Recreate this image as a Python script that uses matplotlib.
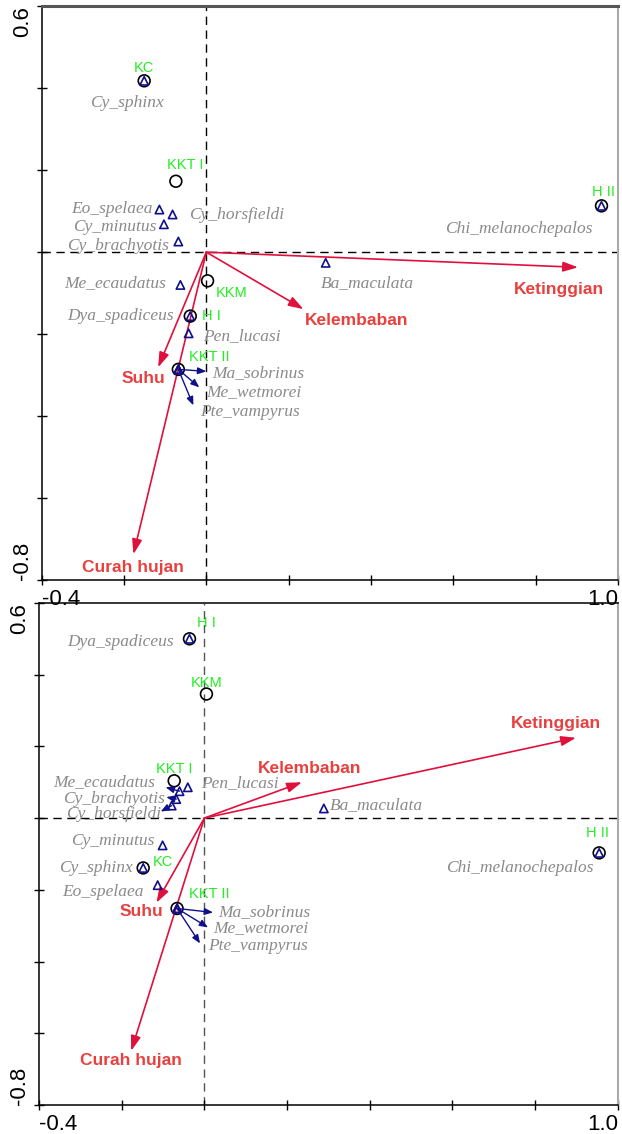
import numpy as np
import matplotlib
matplotlib.use("Agg")
import matplotlib.pyplot as plt
from matplotlib.transforms import offset_copy

plt.rcParams['font.family'] = ['Liberation Sans', 'DejaVu Sans']

# ---------------- data: top ordination ----------------
top_site_names = ['KC', 'KKT I', 'KKM', 'H I', 'KKT II', 'H II']
top_site_x = [-0.151, -0.074, 0.003, -0.039, -0.068, 0.960]
top_site_y = [0.418, 0.173, -0.070, -0.156, -0.286, 0.113]

top_spec_names = ['Cy_sphinx', 'Eo_spelaea', 'Cy_horsfieldi', 'Cy_minutus', 'Cy_brachyotis',
                  'Me_ecaudatus', 'Dya_spadiceus', 'Pen_lucasi', 'Ma_sobrinus', 'Me_wetmorei',
                  'Pte_vampyrus', 'Ba_maculata', 'Chi_melanochepalos']
top_spec_x = [-0.151, -0.114, -0.082, -0.103, -0.068, -0.063, -0.039, -0.043,
              -0.068, -0.068, -0.068, 0.290, 0.960]
top_spec_y = [0.418, 0.104, 0.092, 0.068, 0.026, -0.080, -0.156, -0.198,
              -0.286, -0.286, -0.286, -0.026, 0.113]

top_env_names = ['Ketinggian', 'Kelembaban', 'Suhu', 'Curah hujan']
top_env_x = [0.903, 0.236, -0.117, -0.177]
top_env_y = [-0.037, -0.139, -0.281, -0.737]

# ---------------- data: bottom ordination ----------------
bot_site_names = ['H I', 'KKM', 'KKT I', 'KC', 'KKT II', 'H II']
bot_site_x = [-0.036, 0.005, -0.073, -0.148, -0.066, 0.955]
bot_site_y = [0.500, 0.346, 0.104, -0.139, -0.252, -0.097]

bot_spec_names = ['Dya_spadiceus', 'Me_ecaudatus', 'Cy_brachyotis', 'Cy_horsfieldi', 'Pen_lucasi',
                  'Cy_minutus', 'Cy_sphinx', 'Eo_spelaea', 'Ma_sobrinus', 'Me_wetmorei',
                  'Pte_vampyrus', 'Ba_maculata', 'Chi_melanochepalos']
bot_spec_x = [-0.036, -0.060, -0.068, -0.079, -0.040, -0.101, -0.148, -0.113,
              -0.066, -0.066, -0.066, 0.289, 0.955]
bot_spec_y = [0.500, 0.075, 0.053, 0.035, 0.086, -0.076, -0.139, -0.187,
              -0.252, -0.252, -0.252, 0.027, -0.097]

bot_env_names = ['Ketinggian', 'Kelembaban', 'Suhu', 'Curah hujan']
bot_env_x = [0.899, 0.236, -0.116, -0.177]
bot_env_y = [0.224, 0.100, -0.236, -0.649]

# ---------------- label layout (pixel offsets, alignment) ----------------
top_site_lab = {'KC': (0, 13, 'center'), 'KKT I': (9, 16, 'center'), 'KKM': (24, -12, 'center'),
                'H I': (21, 0, 'center'), 'KKT II': (31, 12, 'center'), 'H II': (2, 14, 'center')}
top_spec_lab = {'Cy_sphinx': (-17, -22, 'center'), 'Eo_spelaea': (-7, 1, 'right'),
                'Cy_horsfieldi': (16, -1, 'left'), 'Cy_minutus': (-8, -3, 'right'),
                'Cy_brachyotis': (-9, -5, 'right'), 'Me_ecaudatus': (-14, 2, 'right'),
                'Dya_spadiceus': (-16, 0, 'right'), 'Pen_lucasi': (14, -3, 'left'),
                'Ma_sobrinus': (34, -4, 'left'), 'Me_wetmorei': (28, -23, 'left'),
                'Pte_vampyrus': (22, -43, 'left'), 'Ba_maculata': (42, -20, 'center'),
                'Chi_melanochepalos': (-9, -23, 'right')}
top_pointer = {'Ma_sobrinus': (28, -2), 'Me_wetmorei': (21, -18), 'Pte_vampyrus': (15, -36)}
top_env_lab = {'Ketinggian': (-19, -22), 'Kelembaban': (53, -11), 'Suhu': (-15, -11),
               'Curah hujan': (-1, -13)}

bot_site_lab = {'H I': (17, 16, 'center'), 'KKM': (0, 11, 'center'), 'KKT I': (0, 12, 'center'),
                'KC': (20, 6, 'center'), 'KKT II': (32, 14, 'center'), 'H II': (-2, 20, 'center')}
bot_spec_lab = {'Dya_spadiceus': (-16, -3, 'right'), 'Me_ecaudatus': (-24, 9, 'right'),
                'Cy_brachyotis': (-11, 0, 'right'), 'Cy_horsfieldi': (-11, -8, 'right'),
                'Pen_lucasi': (13, 4, 'left'), 'Cy_minutus': (-8, 4, 'right'),
                'Cy_sphinx': (-10, 0, 'right'), 'Eo_spelaea': (-14, -7, 'right'),
                'Ma_sobrinus': (41, -4, 'left'), 'Me_wetmorei': (36, -20, 'left'),
                'Pte_vampyrus': (31, -38, 'left'), 'Ba_maculata': (6, 3, 'left'),
                'Chi_melanochepalos': (-6, -15, 'right')}
bot_pointer = {'Me_ecaudatus': (-14, 4), 'Cy_brachyotis': (-10, 2), 'Cy_horsfieldi': (-11, -6),
               'Ma_sobrinus': (36, -4), 'Me_wetmorei': (31, -19), 'Pte_vampyrus': (23, -35)}
bot_env_lab = {'Ketinggian': (-20, 14), 'Kelembaban': (8, 14), 'Suhu': (-15, -9),
               'Curah hujan': (0, -10)}

GREEN = '#22ee22'
RED_TXT = '#e8403f'
RED_ARR = '#e0103c'
NAVY = '#10108a'
GRAY = '#8a8a8a'
PX = 0.72  # pixels -> points at dpi 100

fig = plt.figure(figsize=(6.22, 11.34), dpi=100)
ax_top = fig.add_axes([0.067, 0.4885, 0.9265, 0.506])
ax_bot = fig.add_axes([0.0627, 0.0256, 0.9305, 0.4427])
ax_bot.set_facecolor('none')


def draw(ax, sites, sx, sy, specs, px_, py_, envs, ex, ey,
         site_lab, spec_lab, pointer, env_lab, vcol):
    ax.set_xlim(-0.4, 1.0)
    ax.set_ylim(-0.8, 0.6)
    ax.axhline(0, color='k', ls=(0, (6, 4)), lw=1, zorder=1)
    ax.axvline(0, color=vcol, ls=(0, (6, 4)), lw=1, zorder=1)

    # environmental arrows
    for n, x, y in zip(envs, ex, ey):
        ax.annotate('', xy=(x, y), xytext=(0, 0),
                    arrowprops=dict(arrowstyle='-|>,head_length=0.9,head_width=0.3',
                                    color=RED_ARR, lw=1.2, shrinkA=0, shrinkB=0), zorder=3)
        dx, dy = env_lab[n]
        ax.annotate(n, (x, y), xytext=(dx * PX, dy * PX), textcoords='offset points',
                    ha='center', va='center', color=RED_TXT, fontsize=12.5,
                    fontweight='bold', zorder=5)

    # sites
    ax.scatter(sx, sy, s=72, facecolors='none', edgecolors='k', linewidths=1.2, zorder=4)
    for n, x, y in zip(sites, sx, sy):
        dx, dy, ha = site_lab[n]
        ax.annotate(n, (x, y), xytext=(dx * PX, dy * PX), textcoords='offset points',
                    ha=ha, va='center', color=GREEN, fontsize=10.5, zorder=5)

    # species
    ax.scatter(px_, py_, s=36, marker='^', facecolors='none', edgecolors=NAVY,
               linewidths=1.2, zorder=4)
    for n, x, y in zip(specs, px_, py_):
        if n in pointer:
            pdx, pdy = pointer[n]
            tr = offset_copy(ax.transData, fig=fig, x=pdx * PX, y=pdy * PX, units='points')
            ax.annotate('', xy=(x, y), xycoords=tr, xytext=(x, y), textcoords='data',
                        arrowprops=dict(arrowstyle='-|>,head_length=0.5,head_width=0.2',
                                        color=NAVY, lw=1, shrinkA=0, shrinkB=0), zorder=4)
        dx, dy, ha = spec_lab[n]
        ax.annotate(n, (x, y), xytext=(dx * PX, dy * PX), textcoords='offset points',
                    ha=ha, va='center', color=GRAY, fontsize=12.5, zorder=5,
                    fontfamily='Liberation Serif', fontstyle='italic')

    # axes styling
    ax.set_xticks(np.arange(-0.4, 1.01, 0.2))
    ax.set_xticklabels(['-0.4', '', '', '', '', '', '', '1.0'])
    ax.set_yticks(np.arange(-0.8, 0.61, 0.2))
    ax.set_yticklabels(['-0.8', '', '', '', '', '', '', '0.6'])
    ax.tick_params(direction='inout', length=7, width=1, labelsize=16, pad=3)
    xl = ax.get_xticklabels()
    xl[0].set_ha('left')
    xl[-1].set_ha('right')
    yl = ax.get_yticklabels()
    for t in yl:
        t.set_rotation(90)
    yl[0].set_va('bottom')
    yl[-1].set_va('top')
    for s in ['left', 'bottom']:
        ax.spines[s].set_linewidth(1.1)
    ax.spines['right'].set_color('#aaaaaa')
    ax.spines['right'].set_linewidth(1.5)


draw(ax_top, top_site_names, top_site_x, top_site_y, top_spec_names, top_spec_x, top_spec_y,
     top_env_names, top_env_x, top_env_y, top_site_lab, top_spec_lab, top_pointer,
     top_env_lab, 'k')
ax_top.spines['top'].set_color('#555555')
ax_top.spines['top'].set_linewidth(2.2)

draw(ax_bot, bot_site_names, bot_site_x, bot_site_y, bot_spec_names, bot_spec_x, bot_spec_y,
     bot_env_names, bot_env_x, bot_env_y, bot_site_lab, bot_spec_lab, bot_pointer,
     bot_env_lab, '#555555')
ax_bot.spines['top'].set_linewidth(1.1)

fig.savefig('out.png', dpi=100)
